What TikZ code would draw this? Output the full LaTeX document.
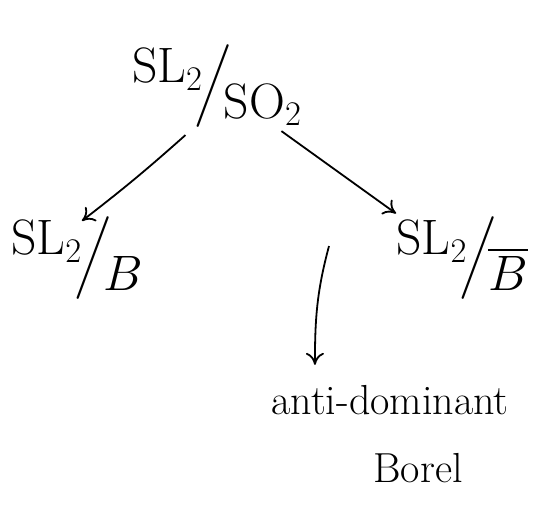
\documentclass[tikz,border=0pt]{standalone}
\usepackage{amsmath}
\usepackage{amssymb}
\usepackage{tikz}
\usepackage{xcolor}
\usetikzlibrary{arrows,arrows.meta,positioning,calc}

\newcommand{\quot}[2]{\raisebox{0.8ex}{$#1$}\!\Big/\!\raisebox{-1.0ex}{$#2$}}

\begin{document}
\begin{tikzpicture}[x=0.5pt,y=-0.5pt,
    lbl/.style={font=\fontsize{23}{27}\selectfont, inner sep=0pt},
    word/.style={font=\fontsize{21}{25}\selectfont, inner sep=2pt},
    hand/.style={-{To[length=6pt,width=9pt]}, line width=0.9pt}]
    \useasboundingbox (0,0) rectangle (539,510);

    \node[lbl] (top) at (217,86) {$\quot{\mathrm{SL}_2}{\mathrm{SO}_2}$};
    \node[lbl] (lft) at (77,258) {$\quot{\mathrm{SL}_2}{B}$};
    \node[lbl] (rgt) at (462,258) {$\quot{\mathrm{SL}_2}{\overline{B}}$};
    \node[word] (anti) at (390,400) {anti-dominant};
    \node[word] (borel) at (418,468) {Borel};

    \coordinate (vstart) at (329,246);

    \draw[hand] ([yshift=-2pt]top.235) to[bend left=2] ([xshift=-4pt,yshift=-4pt]lft.74);
    \draw[hand] (top.-35) -- (rgt.146);
    \draw[hand] (vstart) to[out=-105,in=90] ([xshift=24pt,yshift=8pt]anti.north west);
\end{tikzpicture}
\end{document}
